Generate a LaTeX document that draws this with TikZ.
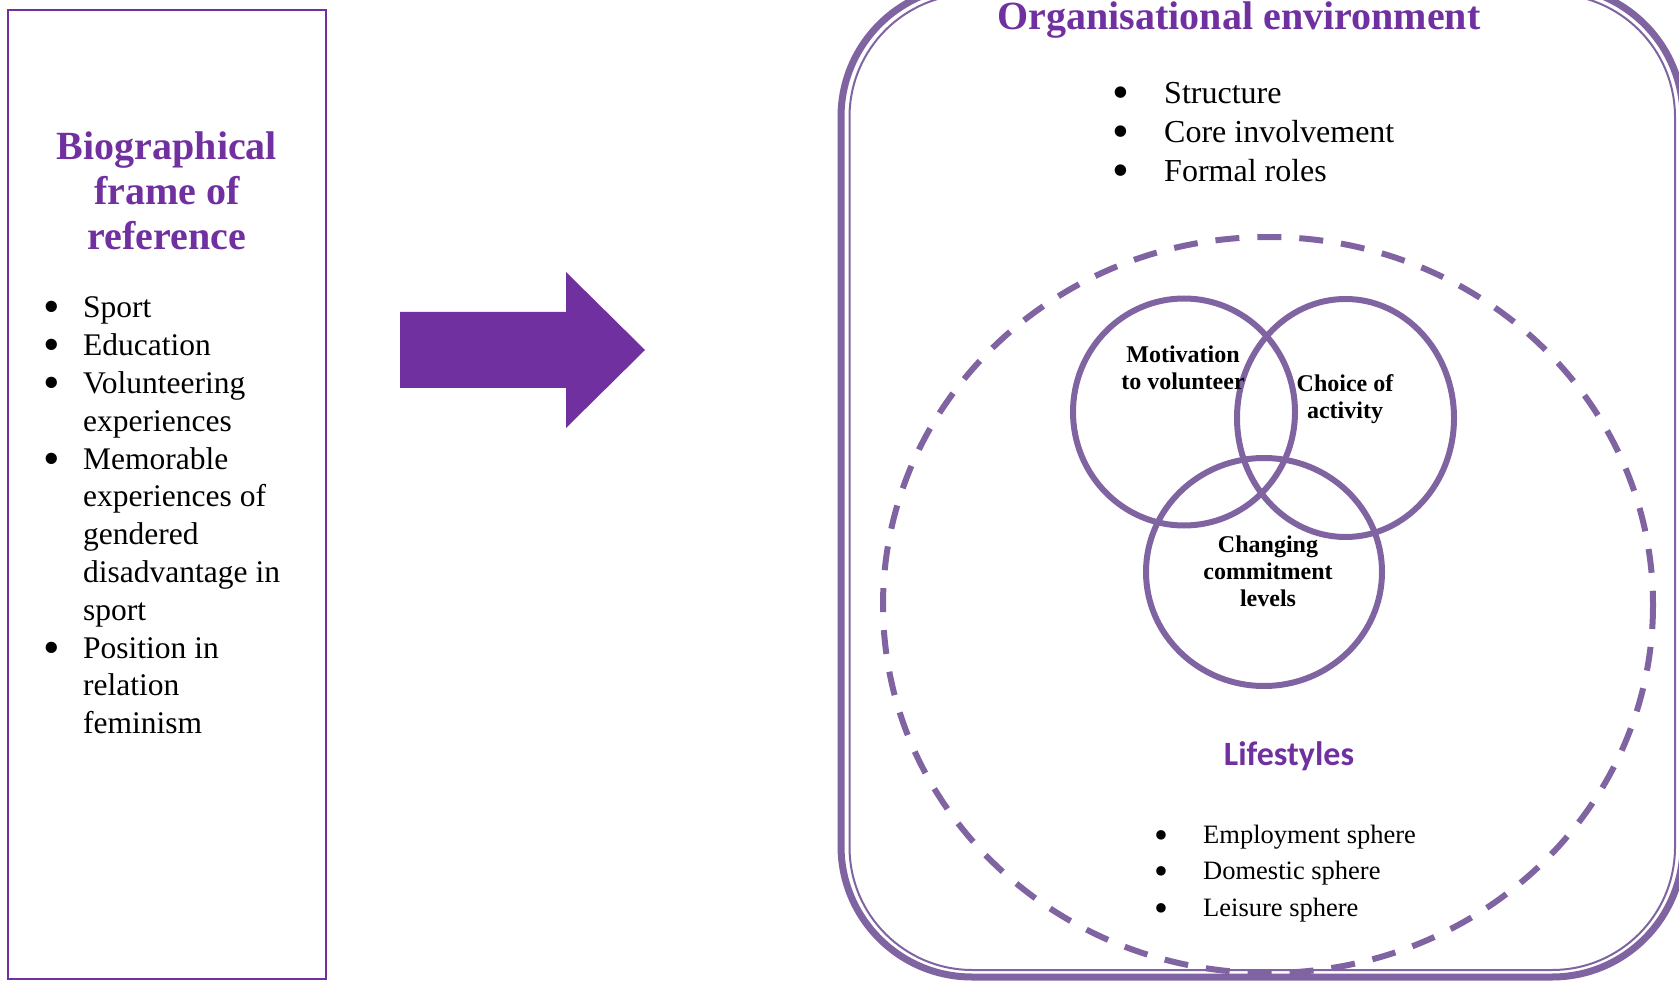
\documentclass[tikz,border=0pt]{standalone}
\usepackage{fontspec}
\usepackage{graphicx}
\setmainfont{Liberation Serif}
\newfontfamily\lifefont{Carlito}
\pgfdeclarelayer{edgelayer}
\pgfdeclarelayer{nodelayer}
\pgfsetlayers{edgelayer,nodelayer,main}
\definecolor{deeppurple}{HTML}{7030A0}
\definecolor{softpurple}{HTML}{8064A2}
% bullet set in a box of the given width
\newcommand{\bul}[1]{\makebox[#1][c]{\smash{\raisebox{-5pt}{\scalebox{1.5}{\textbullet}}}}}
\tikzset{font=\fontsize{32}{39}\selectfont}
\tikzstyle{none}=[inner sep=0pt]
\tikzstyle{heading}=[inner sep=0pt,text=deeppurple,font=\bfseries\fontsize{40}{45}\selectfont]
\tikzstyle{venntext}=[inner sep=0pt,font=\bfseries\fontsize{24}{27}\selectfont]
\tikzstyle{venn}=[draw=softpurple,line width=6pt]
\tikzstyle{frame}=[draw=deeppurple,line width=2.5pt]

\begin{document}
\begin{tikzpicture}[x=1pt,y=-1pt]
	\useasboundingbox (0,0) rectangle (1679,981);
	\begin{pgfonlayer}{nodelayer}
		\node [style=heading, anchor=base] (bio) at (167,160) {\begin{tabular}[t]{@{}c@{}}Biographical\\frame of\\reference\end{tabular}};
		\node [style=none, anchor=base west, font=\fontsize{31.5}{37.8}\selectfont] (biolist) at (21,318) {%
			\begin{tabular}[t]{@{}l@{}l@{}}
				\bul{62pt} & Sport\\
				\bul{62pt} & Education\\
				\bul{62pt} & Volunteering\\
				& experiences\\
				\bul{62pt} & Memorable\\
				& experiences of\\
				& gendered\\
				& disadvantage in\\
				& sport\\
				\bul{62pt} & Position in\\
				& relation\\
				& feminism
			\end{tabular}};
		\node [style=heading, anchor=base] (org) at (1239,30) {Organisational environment};
		\node [style=none, anchor=base west] (orglist) at (1078,104) {%
			\begin{tabular}[t]{@{}l@{}l@{}}
				\bul{86pt} & Structure\\
				\bul{86pt} & Core involvement\\
				\bul{86pt} & Formal roles
			\end{tabular}};
		\node [style=venntext, anchor=base] (motive) at (1183,363) {\begin{tabular}[t]{@{}c@{}}Motivation\\to volunteer\end{tabular}};
		\node [style=venntext, anchor=base] (choice) at (1345,392) {\begin{tabular}[t]{@{}c@{}}Choice of\\activity\end{tabular}};
		\node [style=venntext, anchor=base] (commit) at (1268,552) {\begin{tabular}[t]{@{}c@{}}Changing\\commitment\\levels\end{tabular}};
		\node [style=none, anchor=base, text=deeppurple, font=\lifefont\bfseries\fontsize{34}{40}\selectfont] (life) at (1289,765) {Lifestyles};
		\node [style=none, anchor=base west, font=\fontsize{26.5}{36.5}\selectfont] (lifelist) at (1119,843) {%
			\begin{tabular}[t]{@{}l@{}l@{}}
				\bul{84pt} & Employment sphere\\
				\bul{84pt} & Domestic sphere\\
				\bul{84pt} & Leisure sphere
			\end{tabular}};
	\end{pgfonlayer}
	\begin{pgfonlayer}{edgelayer}
		% left panel
		\draw [style=frame] (8,10) rectangle (326,979);
		% block arrow
		\fill [deeppurple] (400,312) -- (566,312) -- (566,272) -- (645,350) -- (566,428) -- (566,388) -- (400,388) -- cycle;
		% organisation box, thick and thin line
		\draw [softpurple, line width=7pt, rounded corners=131pt] (841,-14) rectangle (1683,977);
		\draw [softpurple, line width=2pt, rounded corners=123pt] (849.5,-6) rectangle (1675,970);
		% lifestyles boundary
		\draw [softpurple, line width=6pt, dash pattern=on 24pt off 18pt] (1268,605) ellipse [x radius=385, y radius=368];
		% venn
		\draw [style=venn] (1184,412) ellipse [x radius=111, y radius=113.5];
		\draw [style=venn] (1345.5,418) ellipse [x radius=108.5, y radius=119];
		\draw [style=venn] (1264,572) ellipse [x radius=118, y radius=114];
	\end{pgfonlayer}
\end{tikzpicture}
\end{document}
